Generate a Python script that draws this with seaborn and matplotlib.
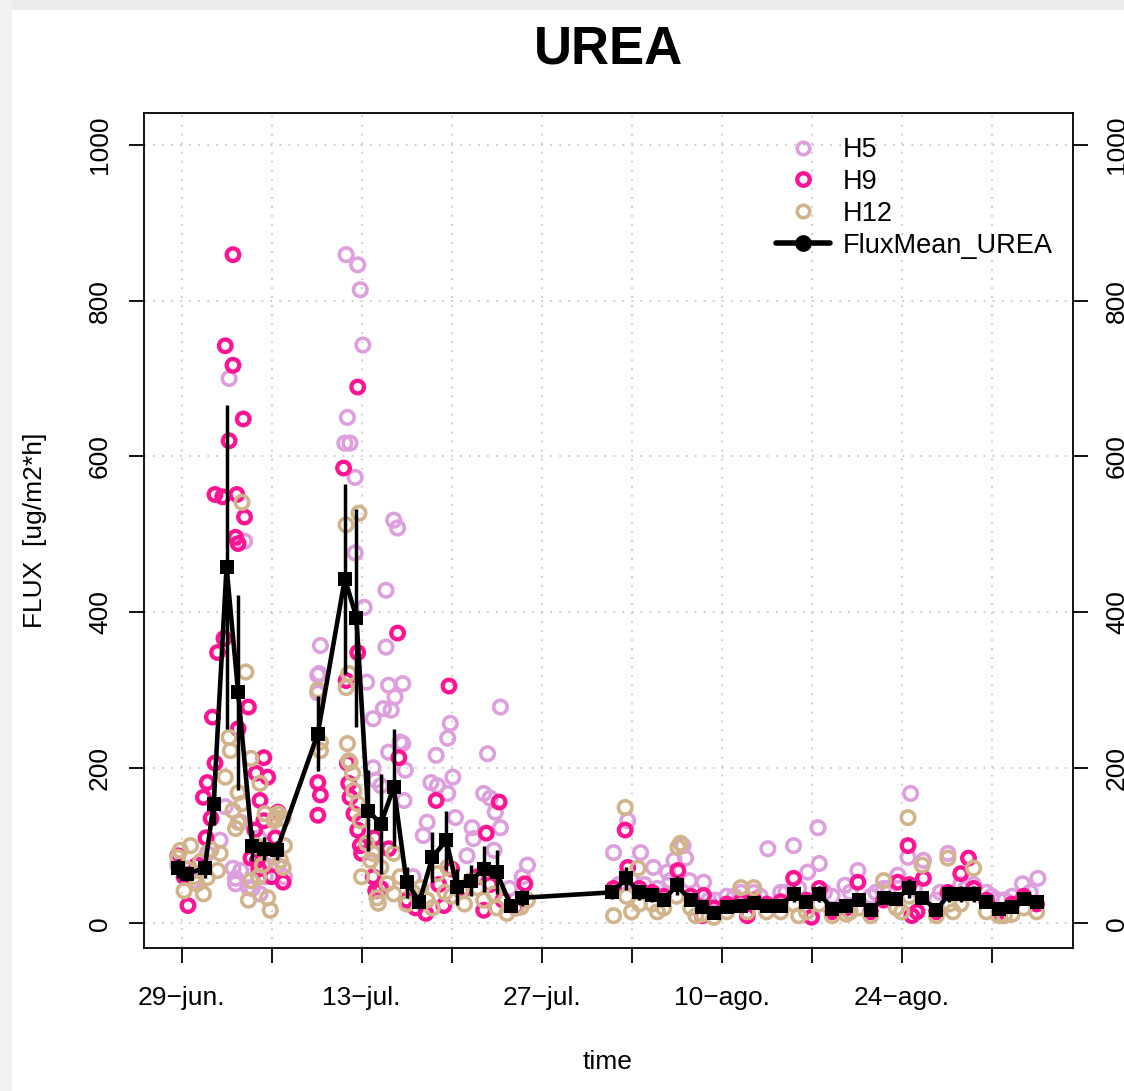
import numpy as np
import pandas as pd
import matplotlib
matplotlib.use("Agg")
import matplotlib.pyplot as plt
from matplotlib.lines import Line2D
from matplotlib.patches import Rectangle
import seaborn as sns

# ---------------------------------------------------------------- data
start_date = "2015-06-29"          # day 0 of the campaign

# daily mean flux of the three chambers, with its spread
mean_day = [-0.3, 0.4, 1.8, 2.5, 3.5, 4.4, 5.5, 6.4, 7.4,
            10.6, 12.7, 13.6, 14.5, 15.5, 16.5, 17.5, 18.5,
            19.5, 20.6, 21.4, 22.5, 23.5, 24.5, 25.6, 26.5,
            33.5, 34.6, 35.6, 36.6, 37.5, 38.5, 39.6, 40.5, 41.4, 42.4,
            43.5, 44.5, 45.5, 46.6, 47.6, 48.6, 49.6, 50.6, 51.7, 52.7,
            53.6, 54.6, 55.6, 56.6, 57.6, 58.7, 59.7, 60.6, 61.6, 62.6,
            63.6, 64.6, 65.5, 66.5]
mean_flux = [71, 64, 71, 154, 458, 297, 100, 96, 94,
             244, 443, 393, 145, 128, 175, 53, 28,
             85, 107, 47, 55, 70, 66, 23, 33,
             40, 58, 40, 36, 30, 49, 30, 21, 14, 21,
             23, 26, 23, 23, 38, 27, 38, 19, 23, 30,
             17, 33, 32, 45, 33, 17, 38, 38, 38, 27,
             19, 21, 32, 27]
mean_sd = [12, 10, 12, 28, 208, 125, 20, 15, 12,
           48, 122, 140, 52, 64, 75, 20, 10,
           32, 38, 23, 20, 30, 28, 8, 10,
           8, 15, 10, 8, 8, 12, 8, 6, 5, 6,
           6, 7, 6, 6, 10, 7, 10, 5, 6, 8,
           5, 8, 8, 12, 8, 5, 10, 10, 10, 7,
           5, 6, 8, 7]

# individual chamber measurements: (day, flux)
h5_points = [
    (-0.3, 75), (0.4, 70), (1.0, 55), (2.0, 90), (3.0, 107), (3.4, 150),
    (3.7, 700), (4.0, 71), (4.2, 58), (4.2, 51), (4.6, 68), (4.6, 130),
    (4.9, 491), (5.2, 46), (5.5, 45), (6.0, 110), (6.1, 38), (6.5, 60),
    (7.0, 90), (7.5, 75), (8.0, 60),
    (10.6, 296), (10.6, 319), (10.7, 321), (10.8, 357), (12.7, 617),
    (12.8, 859), (12.9, 650), (13.1, 617), (13.5, 573), (13.5, 476),
    (13.7, 846), (13.9, 814), (14.1, 743), (14.2, 406), (14.4, 310),
    (14.9, 263), (14.9, 200), (15.1, 184), (15.5, 177), (15.7, 276),
    (15.9, 355), (15.9, 428), (16.1, 306), (16.1, 220), (16.3, 274),
    (16.5, 518), (16.6, 291), (16.8, 508), (17.0, 233), (17.2, 308),
    (17.2, 231), (17.3, 158), (17.4, 197), (18.8, 113), (19.1, 130),
    (19.4, 181), (19.8, 216), (19.9, 177), (20.7, 238), (20.7, 167),
    (20.9, 257), (21.1, 188), (21.3, 136), (22.2, 87), (22.6, 123),
    (22.7, 109), (23.5, 167), (23.8, 218), (24.0, 161), (24.3, 94),
    (24.4, 143), (24.8, 278), (24.8, 123), (26.9, 75), (26.5, 60),
    (25.5, 45), (18.0, 60), (15.0, 95),
    (33.6, 91), (34.7, 132), (35.7, 91), (36.7, 72), (37.8, 66), (38.3, 81),
    (39.0, 100), (39.2, 84), (40.6, 53), (41.5, 30), (42.4, 35), (43.5, 40),
    (44.5, 40), (45.6, 96), (46.6, 40), (47.6, 100), (48.7, 66), (49.5, 123),
    (49.6, 77), (50.6, 35), (51.6, 49), (52.6, 68), (53.6, 35), (54.6, 45),
    (55.7, 62), (56.7, 167), (56.5, 85), (57.7, 81), (58.7, 30), (59.6, 90),
    (60.6, 50), (61.6, 50), (62.6, 40), (63.6, 30), (64.6, 35), (65.4, 51),
    (66.6, 58), (34.0, 50), (35.0, 55), (36.0, 50), (37.0, 45), (38.0, 55),
    (39.5, 55), (41.0, 30), (43.0, 35), (45.0, 35), (47.0, 40), (48.0, 45),
    (50.0, 40), (52.0, 40), (54.0, 40), (55.0, 45), (57.0, 45), (59.0, 40),
    (61.0, 45), (63.0, 35), (64.0, 30), (66.0, 40),
]
h9_points = [
    (-0.3, 87), (0.2, 60), (0.5, 23), (1.2, 75), (1.7, 162), (1.9, 110),
    (2.0, 181), (2.3, 135), (2.4, 265), (2.6, 206), (2.8, 348), (3.3, 366),
    (2.6, 551), (3.2, 548), (3.4, 742), (3.7, 620), (4.0, 859), (4.0, 717),
    (4.3, 551), (4.4, 250), (4.2, 496), (4.4, 488), (4.8, 648), (4.9, 522),
    (5.2, 278), (5.4, 84), (5.9, 81), (5.8, 193), (6.1, 158), (6.4, 213),
    (6.4, 132), (6.7, 188), (7.5, 143), (7.9, 53), (6.0, 70), (6.3, 95),
    (7.0, 60), (5.7, 120), (7.3, 110),
    (10.6, 181), (10.8, 165), (10.6, 139), (12.6, 585), (12.8, 312),
    (12.9, 206), (13.0, 180), (13.1, 162), (13.4, 141), (13.7, 348),
    (13.7, 689), (13.7, 120), (13.9, 100), (16.8, 373), (16.9, 213),
    (16.1, 96), (19.8, 158), (20.8, 305), (23.7, 116), (24.7, 156),
    (26.7, 51), (15.1, 42), (20.4, 23), (23.5, 17), (19.0, 13), (14.9, 60),
    (15.5, 45), (17.5, 30), (18.2, 20), (20.0, 50), (21.0, 70), (22.0, 45),
    (23.0, 60), (24.0, 50), (25.0, 30), (26.0, 20), (14.0, 90), (15.0, 110),
    (33.6, 45), (34.5, 120), (34.7, 72), (35.6, 45), (36.6, 40), (37.5, 35),
    (38.6, 68), (39.6, 35), (40.6, 36), (41.4, 20), (42.4, 25), (43.5, 28),
    (44.5, 30), (45.5, 25), (46.6, 28), (47.6, 58), (48.6, 30), (49.6, 45),
    (50.6, 15), (51.7, 20), (52.6, 53), (53.6, 15), (54.6, 30), (55.7, 53),
    (56.5, 100), (56.6, 50), (57.7, 58), (58.7, 15), (59.6, 40), (60.6, 64),
    (61.2, 84), (61.6, 45), (62.6, 30), (63.6, 15), (64.6, 25), (65.5, 35),
    (66.5, 25), (40.5, 10), (44.0, 10), (49.0, 8), (56.8, 10), (57.2, 15),
]
h12_points = [
    (-0.3, 85), (-0.1, 94), (0.2, 42), (0.4, 70), (0.7, 100), (1.0, 60),
    (1.2, 51), (1.5, 80), (1.7, 38), (2.0, 59), (2.3, 95), (2.8, 68),
    (3.0, 90), (3.4, 188), (3.7, 239), (3.8, 222), (4.0, 145), (4.2, 122),
    (4.4, 130), (4.4, 168), (4.7, 154), (4.7, 541), (5.0, 323), (5.4, 212),
    (5.2, 30), (5.4, 55), (5.8, 100), (6.1, 180), (6.5, 141), (6.7, 33),
    (6.9, 17), (7.2, 132), (7.3, 136), (7.5, 141), (7.7, 81), (7.9, 72),
    (7.9, 135), (8.0, 100), (6.0, 60), (6.3, 75),
    (10.6, 300), (10.8, 222), (10.8, 233), (12.8, 303), (12.8, 512),
    (12.9, 231), (13.0, 321), (13.0, 209), (13.1, 207), (13.3, 193),
    (13.4, 171), (13.7, 154), (13.8, 527), (13.9, 132), (14.4, 103),
    (14.7, 81), (14.9, 90), (15.2, 33), (15.3, 26), (15.5, 72), (16.0, 51),
    (16.5, 38), (17.0, 60), (17.5, 25), (18.0, 40), (18.6, 46), (19.1, 30),
    (19.9, 64), (20.7, 72), (21.0, 35), (21.7, 42), (22.0, 25), (23.0, 46),
    (23.5, 30), (24.3, 38), (25.3, 13), (26.0, 20), (26.4, 21), (26.9, 30),
    (14.0, 60), (16.5, 90), (19.5, 20), (20.5, 40), (22.5, 55), (24.5, 20),
    (33.6, 10), (34.5, 149), (34.6, 35), (35.5, 71), (35.6, 25), (36.6, 25),
    (37.5, 20), (38.6, 98), (38.8, 103), (38.5, 35), (39.6, 20), (40.5, 12),
    (41.4, 8), (42.4, 15), (43.5, 46), (44.5, 46), (45.5, 15), (46.6, 15),
    (47.6, 25), (48.6, 15), (49.6, 25), (50.6, 10), (51.7, 12), (52.7, 20),
    (53.6, 10), (54.6, 55), (55.6, 20), (56.5, 136), (56.6, 35), (57.6, 75),
    (58.7, 10), (59.6, 84), (59.7, 25), (60.6, 25), (61.6, 71), (62.6, 15),
    (63.6, 10), (64.6, 12), (65.5, 20), (66.5, 15), (35.0, 15), (37.0, 15),
    (40.0, 10), (44.0, 15), (48.0, 10), (52.0, 15), (56.0, 15), (60.0, 15),
    (64.0, 10),
]

series_names = ["H5", "H9", "H12"]
series_colors = ["#DDA0DD", "#FF1493", "#D2B48C"]
mean_label = "FluxMean_UREA"

tick_days = [0, 7, 14, 21, 28, 35, 42, 49, 56, 63]
tick_labels = ["29\u2212jun.", "", "13\u2212jul.", "", "27\u2212jul.", "",
               "10\u2212ago.", "", "24\u2212ago.", ""]
y_ticks = [0, 200, 400, 600, 800, 1000]

# ---------------------------------------------------------------- helpers
base = pd.Timestamp(start_date)


def to_dates(days):
    return base + pd.to_timedelta(np.asarray(days, dtype=float), unit="D")


def points_frame(points):
    d = np.array(points, dtype=float)
    return pd.DataFrame({"date": to_dates(d[:, 0]), "flux": d[:, 1]})


# ---------------------------------------------------------------- figure
sns.set_style("white")
plt.rcParams["font.family"] = ["Liberation Sans", "DejaVu Sans"]
plt.rcParams["text.color"] = "black"
plt.rcParams["axes.labelcolor"] = "black"
plt.rcParams["xtick.color"] = "black"
plt.rcParams["ytick.color"] = "black"

W, H = 1124, 1091
fig = plt.figure(figsize=(W / 100, H / 100), dpi=100)
fig.patch.set_facecolor("white")

# soft grey frame along the top and left edges
fig.patches.append(Rectangle((0, 1 - 10 / H), 1, 10 / H, transform=fig.transFigure,
                             facecolor="#ececec", edgecolor="none", zorder=-5))
fig.patches.append(Rectangle((0, 0), 12 / W, 1, transform=fig.transFigure,
                             facecolor="#f1f1f1", edgecolor="none", zorder=-5))

ax_l, ax_r, ax_t, ax_b = 144, 1073, 113, 948
ax = fig.add_axes([ax_l / W, 1 - ax_b / H, (ax_r - ax_l) / W, (ax_b - ax_t) / H])

widths = {"H5": 2.6, "H9": 3.1, "H12": 2.6}
sizes = {"H5": 95, "H9": 82, "H12": 95}
for name, pts, col in zip(series_names, [h5_points, h9_points, h12_points], series_colors):
    df = points_frame(pts)
    sns.scatterplot(data=df, x="date", y="flux", ax=ax, marker="o",
                    s=sizes[name], facecolor="none", edgecolor=col,
                    linewidth=widths[name], legend=False, zorder=3)

mean_df = pd.DataFrame({"date": to_dates(mean_day), "flux": mean_flux, "sd": mean_sd})
ax.errorbar(mean_df["date"], mean_df["flux"], yerr=mean_df["sd"], fmt="none",
            ecolor="black", elinewidth=2.5, capsize=0, zorder=4)
sns.lineplot(data=mean_df, x="date", y="flux", ax=ax, color="black", lw=3.3,
             marker="s", markersize=10.5, markeredgewidth=0, legend=False, zorder=5)

# axes ranges
ax.set_xlim(to_dates([-2.92])[0], to_dates([69.33])[0])
ax.set_ylim(-31.5, 1041)

ax.set_xticks(to_dates(tick_days))
ax.set_xticklabels(tick_labels)
ax.set_yticks(y_ticks)
ax.set_yticklabels([str(v) for v in y_ticks])
ax.set_xlabel("")
ax.set_ylabel("")

ax.grid(True, linestyle=(0, (1, 4)), color="#c8c8c8", linewidth=1.3, zorder=0)
ax.set_axisbelow(True)

for sp in ax.spines.values():
    sp.set_visible(True)
    sp.set_color("black")
    sp.set_linewidth(1.3)

ax.tick_params(axis="x", direction="out", length=11, width=1.3, pad=16,
               labelsize=19, colors="black", bottom=True)
ax.tick_params(axis="y", direction="out", length=11, width=1.3, pad=12,
               labelsize=19, colors="black", left=True, right=True,
               labelleft=True, labelright=True, labelrotation=90)
for t in ax.yaxis.get_major_ticks():
    t.label1.set_va("center")
    t.label2.set_va("center")
    t.label2.set_ha("left")
    t.label1.set_ha("right")

# titles and axis captions
fig.text(609 / W, 1 - 50 / H, "UREA", ha="center", va="center",
         fontsize=38, fontweight="bold", color="black")
fig.text(608 / W, 1 - 1062 / H, "time", ha="center", va="center", fontsize=19,
         color="black")
fig.text(35 / W, 1 - 530 / H, "FLUX  [ug/m2*h]", ha="center", va="center",
         rotation=90, fontsize=19, color="black")

# legend
handles = [Line2D([], [], linestyle="none", marker="o", markersize=9,
                  markerfacecolor="none", markeredgecolor=c,
                  markeredgewidth=widths[n]) for n, c in zip(series_names, series_colors)]
handles.append(Line2D([], [], color="black", lw=4, marker="o", markersize=11))
leg = ax.legend(handles, series_names + [mean_label], loc="upper left",
                bbox_to_anchor=((776 - ax_l) / (ax_r - ax_l), 1 - (137 - ax_t) / (ax_b - ax_t)),
                frameon=False, fontsize=19.5, handlelength=2.0, handletextpad=0.45,
                labelspacing=0.22, borderaxespad=0, borderpad=0)
leg.set_zorder(6)
for txt in leg.get_texts():
    txt.set_color("black")

fig.savefig("out.png", dpi=100, facecolor=fig.get_facecolor())
